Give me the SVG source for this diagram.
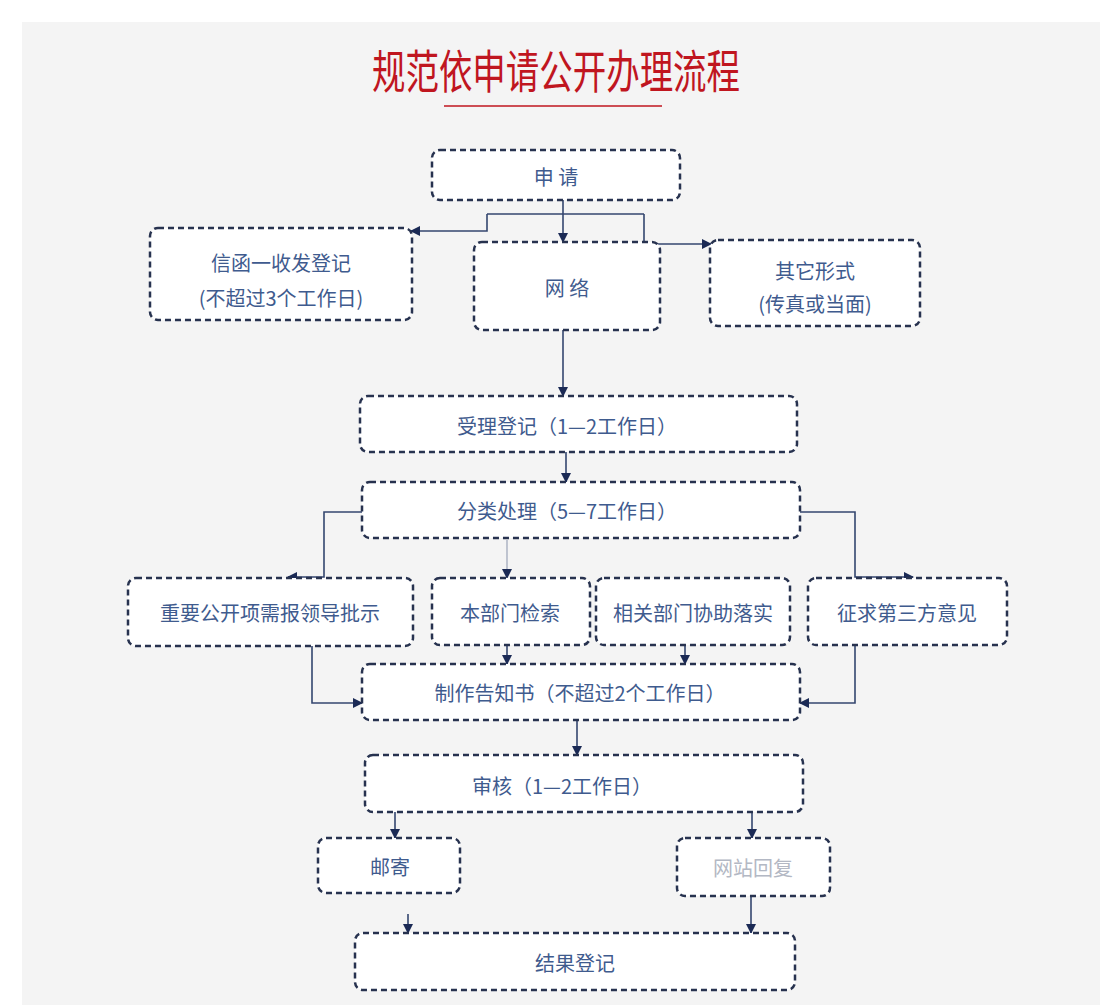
<svg xmlns="http://www.w3.org/2000/svg" width="1100" height="1005" viewBox="0 0 1100 1005">
<style>
.box{fill:#ffffff;stroke:#27324f;stroke-width:2.5;stroke-dasharray:6 4;}
.t{font-family:"Noto Sans CJK SC","Noto Sans",sans-serif;font-size:20px;fill:#3f5b8e;text-anchor:middle;dominant-baseline:central;}
.c{fill:none;stroke:#34466f;stroke-width:1.6;}
</style>
<defs>
<marker id="ah" viewBox="0 0 10 10" refX="9" refY="5" markerWidth="10" markerHeight="10" markerUnits="userSpaceOnUse" orient="auto">
<path d="M0,0 L10,5 L0,10 z" fill="#1b2a55"/>
</marker>
</defs>
<rect x="0" y="0" width="1100" height="1005" fill="#ffffff"/>
<rect x="22" y="22" width="1078" height="983" fill="#f4f4f4"/>
<g id="title">
<text x="556" y="68" font-family="'Noto Sans CJK SC',sans-serif" font-size="46" fill="#c0161f" text-anchor="middle" dominant-baseline="central" textLength="368" lengthAdjust="spacingAndGlyphs">规范依申请公开办理流程</text>
<line x1="444" y1="106" x2="662" y2="106" stroke="#c0161f" stroke-width="1.5"/>
</g>
<g id="connectors">
<path class="c" d="M563,200 V214"/>
<path class="c" d="M487,214 H644"/>
<path class="c" d="M487,214 V231 H411" marker-end="url(#ah)"/>
<path class="c" d="M644,214 V244 H711" marker-end="url(#ah)"/>
<path class="c" d="M563,214 V242" marker-end="url(#ah)"/>
<path class="c" d="M563,330 V396" marker-end="url(#ah)"/>
<path class="c" d="M566,452 V482" marker-end="url(#ah)"/>
<path class="c" d="M362,512 H324 V577 H288" marker-end="url(#ah)"/>
<path class="c" d="M800,512 H855 V577 H913" marker-end="url(#ah)"/>
<path class="c" d="M507,540 V578" stroke-opacity="0.35" marker-end="url(#ah)"/>
<path class="c" d="M507,645 V664" marker-end="url(#ah)"/>
<path class="c" d="M685,645 V664" marker-end="url(#ah)"/>
<path class="c" d="M312,646 V703 H362" marker-end="url(#ah)"/>
<path class="c" d="M855,645 V703 H800" marker-end="url(#ah)"/>
<path class="c" d="M577,720 V755" marker-end="url(#ah)"/>
<path class="c" d="M395,812 V838" marker-end="url(#ah)"/>
<path class="c" d="M752,812 V838" marker-end="url(#ah)"/>
<path class="c" d="M408,914 V933" marker-end="url(#ah)"/>
<path class="c" d="M751,896 V933" marker-end="url(#ah)"/>
</g>
<g id="n-shenqing"><rect class="box" x="432" y="150" width="248" height="50" rx="8"/><text class="t" x="556" y="176">申 请</text></g>
<g id="n-xinhan"><rect class="box" x="150" y="228" width="262" height="92" rx="8"/><text class="t" x="281" y="262">信函一收发登记</text><text class="t" x="281" y="297">(不超过3个工作日)</text></g>
<g id="n-wangluo"><rect class="box" x="474" y="242" width="186" height="88" rx="8"/><text class="t" x="567" y="287">网 络</text></g>
<g id="n-qita"><rect class="box" x="710" y="240" width="210" height="86" rx="8"/><text class="t" x="815" y="270">其它形式</text><text class="t" x="815" y="303">(传真或当面)</text></g>
<g id="n-shouli"><rect class="box" x="360" y="396" width="437" height="56" rx="8"/><text class="t" x="567" y="425">受理登记（1—2工作日）</text></g>
<g id="n-fenlei"><rect class="box" x="362" y="482" width="438" height="56" rx="8"/><text class="t" x="567" y="510">分类处理（5—7工作日）</text></g>
<g id="n-zhongyao"><rect class="box" x="128" y="578" width="285" height="68" rx="8"/><text class="t" x="270" y="612">重要公开项需报领导批示</text></g>
<g id="n-benbumen"><rect class="box" x="432" y="578" width="158" height="67" rx="8"/><text class="t" x="510" y="612">本部门检索</text></g>
<g id="n-xiangguan"><rect class="box" x="596" y="578" width="194" height="67" rx="8"/><text class="t" x="693" y="612">相关部门协助落实</text></g>
<g id="n-zhengqiu"><rect class="box" x="808" y="578" width="199" height="67" rx="8"/><text class="t" x="907" y="612">征求第三方意见</text></g>
<g id="n-zhizuo"><rect class="box" x="362" y="664" width="438" height="56" rx="8"/><text class="t" x="580" y="692">制作告知书（不超过2个工作日）</text></g>
<g id="n-shenhe"><rect class="box" x="365" y="755" width="438" height="57" rx="8"/><text class="t" x="562" y="785">审核（1—2工作日）</text></g>
<g id="n-youji"><rect class="box" x="318" y="838" width="142" height="55" rx="8"/><text class="t" x="390" y="866">邮寄</text></g>
<g id="n-wangzhan"><rect class="box" x="677" y="838" width="153" height="58" rx="8"/><text class="t" x="753" y="867" style="fill:#b3b8c4">网站回复</text></g>
<g id="n-jieguo"><rect class="box" x="355" y="933" width="440" height="57" rx="8"/><text class="t" x="575" y="962">结果登记</text></g>
</svg>
